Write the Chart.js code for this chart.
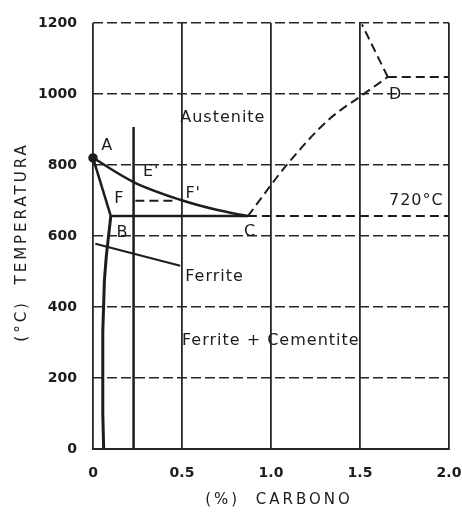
<!DOCTYPE html>
<html>
<head>
<meta charset="utf-8">
<title>Diagramma ferro-carbonio</title>
<script src="https://cdn.jsdelivr.net/npm/chart.js@4.4.1/dist/chart.umd.min.js"></script>
<style>
  html, body { margin: 0; padding: 0; background: #fff; }
</style>
</head>
<body>
<canvas id="diagram" width="462" height="513"></canvas>
<script>
// axis ticks
const carbonTicks = [0, 0.5, 1.0, 1.5, 2.0];
const tempTicks = [0, 200, 400, 600, 800, 1000, 1200];

// curves, [carbon %, temperature °C]
const pointA = [[0, 820]];
const lineAC = [[0, 820], [0.228, 752], [0.49, 702], [0.7, 673], [0.87, 656]];
const lineAB = [[0, 820], [0.1, 656]];
const lineBC = [[0.1, 656], [0.87, 656]];
const lineBottom = [[0.1, 656], [0.075, 545], [0.064, 475], [0.055, 330], [0.055, 100], [0.06, 0]];
const lineFerrite = [[0.013, 578], [0.49, 516]];
const lineE = [[0.228, 907], [0.228, 0]];
const lineF = [[0.238, 699], [0.47, 699]];
const lineCD = [[0.87, 656], [1.085, 798], [1.32, 926], [1.51, 996], [1.656, 1048]];
const lineDTop = [[1.656, 1048], [1.511, 1196]];
const lineDRight = [[1.656, 1048], [2.0, 1048]];
const line720 = [[0.87, 656], [2.0, 656]];

// text on the diagram and where it sits, [carbon %, temperature °C]
const regionNames = ['Austenite', 'Ferrite', 'Ferrite + Cementite'];
const regionAt = [[0.49, 934], [0.518, 484], [0.50, 306]];
const pointNames = ['A', "E'", 'F', "F'", 'B', 'C', 'D'];
const pointAt = [[0.08, 855], [0.327, 782], [0.148, 706], [0.563, 720], [0.165, 610], [0.883, 613], [1.70, 999]];
const eutectoidText = '720°C';
const eutectoidAt = [1.97, 698];

const xTitle = '(%)  CARBONO';
const yTitle = '(°C)  TEMPERATURA';

const ink = '#1c1c1c';
const gridInk = '#262626';
const fontFamily = '"DejaVu Sans", sans-serif';

function curve(points, opts) {
  return Object.assign({
    data: points.map(([x, y]) => ({ x, y })),
    showLine: true,
    borderColor: ink,
    backgroundColor: ink,
    borderWidth: 2.5,
    pointRadius: 0,
    tension: 0,
    fill: false
  }, opts || {});
}

const dash = [9, 5];

const diagramText = {
  id: 'diagramText',
  afterDatasetsDraw(chart) {
    const { ctx, scales: { x, y } } = chart;
    ctx.save();
    ctx.fillStyle = ink;
    ctx.letterSpacing = '1px';
    ctx.textBaseline = 'middle';

    ctx.font = '16px ' + fontFamily;
    ctx.textAlign = 'left';
    regionNames.forEach((name, i) => {
      ctx.fillText(name, x.getPixelForValue(regionAt[i][0]), y.getPixelForValue(regionAt[i][1]));
    });

    ctx.textAlign = 'center';
    pointNames.forEach((name, i) => {
      ctx.fillText(name, x.getPixelForValue(pointAt[i][0]), y.getPixelForValue(pointAt[i][1]));
    });

    ctx.textAlign = 'right';
    ctx.fillText(eutectoidText, x.getPixelForValue(eutectoidAt[0]), y.getPixelForValue(eutectoidAt[1]));
    ctx.restore();
  },
  afterDraw(chart) {
    const { ctx, chartArea } = chart;
    ctx.save();
    ctx.fillStyle = ink;
    ctx.letterSpacing = '3px';
    ctx.font = '15px ' + fontFamily;
    ctx.textAlign = 'center';
    ctx.textBaseline = 'middle';
    ctx.fillText(xTitle, (chartArea.left + chartArea.right) / 2 + 8, 500);
    ctx.translate(22, (chartArea.top + chartArea.bottom) / 2 + 6);
    ctx.rotate(-Math.PI / 2);
    ctx.fillText(yTitle, 0, 0);
    ctx.restore();
  }
};

new Chart(document.getElementById('diagram'), {
  type: 'scatter',
  data: {
    datasets: [
      curve(lineAC, { cubicInterpolationMode: 'monotone' }),
      curve(lineAB),
      curve(lineBC),
      curve(lineBottom, { borderWidth: 3 }),
      curve(lineFerrite, { borderWidth: 2 }),
      curve(lineE),
      curve(lineF, { borderWidth: 2, borderDash: dash }),
      curve(lineCD, { borderWidth: 2, borderDash: dash, cubicInterpolationMode: 'monotone' }),
      curve(lineDTop, { borderWidth: 2, borderDash: dash }),
      curve(lineDRight, { borderWidth: 2, borderDash: dash }),
      curve(line720, { borderWidth: 2, borderDash: dash }),
      curve(pointA, { showLine: false, pointRadius: 3.5, clip: 6 })
    ]
  },
  options: {
    responsive: false,
    animation: false,
    events: [],
    layout: { padding: { top: 23, right: 13, left: 0, bottom: 0 } },
    plugins: {
      legend: { display: false },
      tooltip: { enabled: false }
    },
    scales: {
      x: {
        type: 'linear',
        min: 0,
        max: 2,
        afterBuildTicks: axis => { axis.ticks = carbonTicks.map(v => ({ value: v })); },
        afterFit: axis => {
          axis.height = 64;
          axis.paddingLeft = 0;
          axis.paddingRight = 0;
        },
        ticks: {
          color: ink,
          padding: 16,
          font: { family: fontFamily, size: 14, weight: 'bold' },
          callback: v => (v === 0 ? '0' : v.toFixed(1))
        },
        grid: { color: gridInk, lineWidth: 1.8, drawTicks: false },
        border: { display: true, color: gridInk, width: 2 }
      },
      y: {
        type: 'linear',
        min: 0,
        max: 1200,
        afterBuildTicks: axis => { axis.ticks = tempTicks.map(v => ({ value: v })); },
        afterFit: axis => {
          axis.width = 93;
          axis.paddingTop = 0;
          axis.paddingBottom = 0;
        },
        ticks: {
          color: ink,
          padding: 16,
          font: { family: fontFamily, size: 14, weight: 'bold' },
          callback: v => String(v)
        },
        grid: { color: gridInk, lineWidth: 1.5, drawTicks: false },
        border: { display: false, dash: [10, 4] }
      }
    }
  },
  plugins: [diagramText]
});
</script>
</body>
</html>
